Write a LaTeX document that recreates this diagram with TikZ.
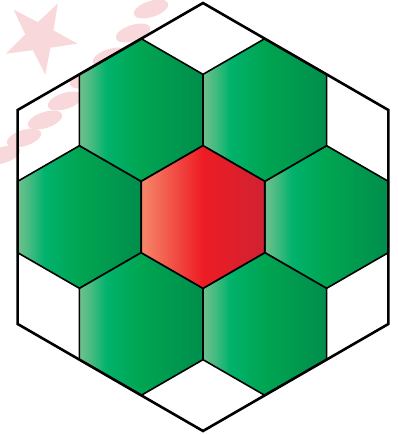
\documentclass[tikz,border=0pt]{standalone}
\definecolor{g1}{RGB}{112,192,142}
\definecolor{g2}{RGB}{0,178,108}
\definecolor{g3}{RGB}{0,165,81}
\definecolor{g4}{RGB}{0,142,76}
\definecolor{r1}{RGB}{246,136,106}
\definecolor{r2}{RGB}{237,28,36}
\definecolor{r3}{RGB}{208,34,50}
\definecolor{wm}{RGB}{249,216,219}
\pgfdeclarehorizontalshading{greensh}{100bp}{color(0bp)=(g1); color(25bp)=(g1); color(30bp)=(g1!60!g2); color(36bp)=(g2); color(50bp)=(g3); color(75bp)=(g4); color(100bp)=(g4)}
\pgfdeclarehorizontalshading{redsh}{100bp}{color(0bp)=(r1); color(25bp)=(r1); color(50bp)=(r2); color(75bp)=(r3); color(100bp)=(r3)}
\tikzset{
  innerline/.style={draw=black, line width=1.6pt, line join=miter},
  outerline/.style={draw=black, line width=2.6pt, line join=miter},
  blob/.style={fill=wm},
}
\newcommand\hexpts{(90:71.33pt) -- (150:71.33pt) -- (210:71.33pt) -- (270:71.33pt) -- (330:71.33pt) -- (30:71.33pt) -- cycle}
\begin{document}
\begin{tikzpicture}[x=1pt,y=-1pt]
\useasboundingbox (0,0) rectangle (398,434);
% watermark
\fill[wm, shift={(40,37)}] (62:38pt) -- (98:15pt) -- (134:38pt) -- (170:15pt) -- (206:38pt) -- (242:15pt) -- (278:38pt) -- (314:15pt) -- (350:38pt) -- (26:15pt) -- cycle;
\foreach \bx/\by in {151/9, 133/33, 110/57, 87/79, 65/101, 45/120, 24/138, 3/155} {
  \fill[blob, rotate around={18:(\bx,\by)}] (\bx,\by) ellipse [x radius=18, y radius=8];
}
% green hexagons
\foreach \cx/\cy in {79.45/217, 326.55/217, 141.22/110, 264.78/110, 141.22/324, 264.78/324} {
  \shadedraw[shading=greensh, innerline, shift={(\cx,\cy)}] \hexpts;
}
% red centre
\shadedraw[shading=redsh, innerline, shift={(203,217)}] \hexpts;
% outer hexagon
\draw[outerline, shift={(203,217)}] (90:214pt) -- (150:214pt) -- (210:214pt) -- (270:214pt) -- (330:214pt) -- (30:214pt) -- cycle;
\end{tikzpicture}
\end{document}
